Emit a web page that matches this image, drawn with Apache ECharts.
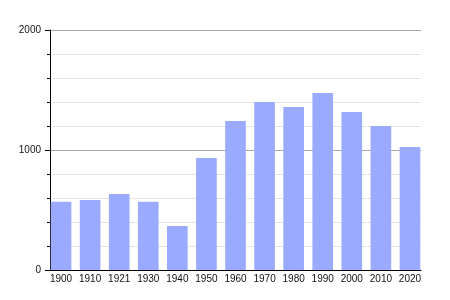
<!DOCTYPE html>
<html>
<head>
<meta charset="utf-8">
<script src="https://cdn.jsdelivr.net/npm/echarts@6/dist/echarts.min.js"></script>
<style>html,body{margin:0;padding:0;background:#fff}#c{width:450px;height:300px}</style>
</head>
<body>
<div id="c"></div>
<script>
const years = ['1900','1910','1921','1930','1940','1950','1960','1970','1980','1990','2000','2010','2020'];
const population = [569, 583, 633, 569, 367, 933, 1242, 1400, 1358, 1475, 1317, 1200, 1025];
const yTicks = [0, 1000, 2000];

const font = 'Liberation Sans, Arial, sans-serif';
const chart = echarts.init(document.getElementById('c'), null, {renderer: 'canvas'});
chart.setOption({
  animation: false,
  grid: [
    {left: 50, right: 29, top: 30, bottom: 30},
    {left: 46.5, right: 25.5, top: 30, bottom: 30}
  ],
  xAxis: [
    {type: 'category', gridIndex: 0, data: years,
     axisLine: {show: true, lineStyle: {color: '#000', width: 1}},
     axisTick: {show: false}, axisLabel: {show: false}},
    {type: 'category', gridIndex: 1, data: years,
     axisLine: {show: false}, axisTick: {show: false},
     axisLabel: {show: true, margin: 4, fontSize: 10, color: '#111', fontFamily: font, interval: 0}}
  ],
  yAxis: [
    {type: 'value', gridIndex: 0, min: yTicks[0], max: yTicks[yTicks.length - 1], interval: 1000,
     axisLine: {show: true, lineStyle: {color: '#000', width: 1}},
     axisTick: {show: true, length: 5, lineStyle: {color: '#000'}},
     minorTick: {show: true, splitNumber: 5, length: 3, lineStyle: {color: '#000'}},
     splitLine: {show: true, lineStyle: {color: '#aaa', width: 1}},
     minorSplitLine: {show: true, lineStyle: {color: '#e4e4e4', width: 1}},
     axisLabel: {margin: 9, fontSize: 10, color: '#111', fontFamily: font,
                 formatter: function (v) { return String(v); }}},
    {type: 'value', gridIndex: 1, min: yTicks[0], max: yTicks[yTicks.length - 1], show: false,
     splitLine: {show: false}}
  ],
  series: [{
    type: 'bar', xAxisIndex: 1, yAxisIndex: 1, data: population,
    barCategoryGap: '29%',
    itemStyle: {color: '#99aaff'}
  }]
});
</script>
</body>
</html>
